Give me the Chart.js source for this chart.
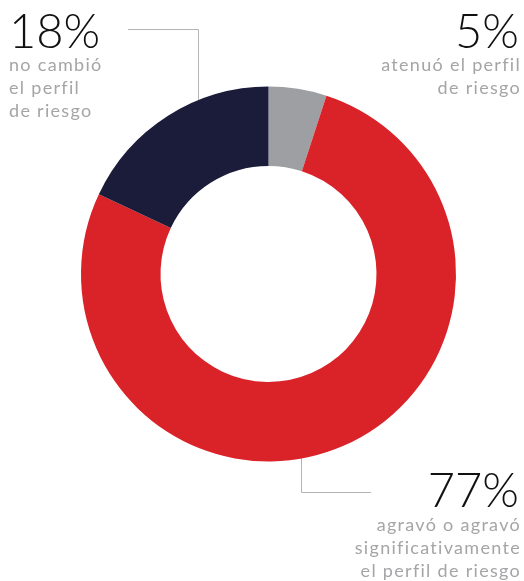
<!DOCTYPE html>
<html>
<head>
<meta charset="utf-8">
<script src="https://cdn.jsdelivr.net/npm/chart.js@4"></script>
<style>
  html, body { margin: 0; padding: 0; background: #fff; }
  #wrap { position: relative; width: 524px; height: 581px; }
</style>
</head>
<body>
<div id="wrap"><canvas id="perfilChart"></canvas></div>
<script>
// segmentos del anillo, empezando arriba y en sentido horario
var categorias = ['atenuó el perfil de riesgo', 'agravó o agravó significativamente el perfil de riesgo', 'no cambió el perfil de riesgo'];
var porcentajes = [5, 77, 18];
var colores = ['#9e9fa3', '#da2229', '#1b1b3a'];

// textos de cada etiqueta
var cifras = ['5%', '77%', '18%'];
var rotulos = [
  ['atenuó el perfil', 'de riesgo'],
  ['agravó o agravó', 'significativamente', 'el perfil de riesgo'],
  ['no cambió', 'el perfil', 'de riesgo']
];

var NUM_FONT = '300 47px Lato, "Open Sans", sans-serif';
var TXT_FONT = '400 18px Lato, "Open Sans", sans-serif';

// etiquetas y lineas guia
var etiquetas = {
  id: 'etiquetas',
  beforeDatasetsDraw: function(chart) {
    var ctx = chart.ctx;
    ctx.save();
    ctx.strokeStyle = '#b4b4b6';
    ctx.lineWidth = 1;
    ctx.beginPath();
    ctx.moveTo(128, 29.5);
    ctx.lineTo(198.5, 29.5);
    ctx.lineTo(198.5, 110);
    ctx.moveTo(301.5, 440);
    ctx.lineTo(301.5, 492.5);
    ctx.lineTo(371, 492.5);
    ctx.stroke();
    ctx.restore();
  },
  afterDraw: function(chart) {
    var ctx = chart.ctx;
    ctx.save();
    ctx.textBaseline = 'alphabetic';

    function bloque(i, x, y, align, saltos) {
      ctx.textAlign = align;
      ctx.fillStyle = '#111111';
      ctx.font = NUM_FONT;
      ctx.letterSpacing = '0px';
      ctx.fillText(cifras[i], x, y);
      ctx.fillStyle = '#a5a5a8';
      ctx.font = TXT_FONT;
      ctx.letterSpacing = '1.3px';
      rotulos[i].forEach(function(t, k) {
        ctx.fillText(t, align === 'right' ? x + 2 : x, saltos[0] + k * saltos[1]);
      });
    }

    bloque(2, 9, 47.5, 'left', [71, 23]);
    bloque(0, 519, 47.5, 'right', [71, 23]);
    bloque(1, 519, 507, 'right', [531, 23]);
    ctx.restore();
  }
};

new Chart(document.getElementById('perfilChart'), {
  type: 'doughnut',
  data: {
    labels: categorias,
    datasets: [{
      data: porcentajes,
      backgroundColor: colores,
      borderWidth: 0,
      hoverOffset: 0,
      offset: 0
    }]
  },
  options: {
    responsive: true,
    maintainAspectRatio: false,
    animation: false,
    cutout: '57.6%',
    rotation: 0,
    layout: { padding: { left: 81, right: 68, top: 86.5, bottom: 119.5 } },
    plugins: {
      legend: { display: false },
      tooltip: { enabled: false }
    }
  },
  plugins: [etiquetas]
});
</script>
</body>
</html>
